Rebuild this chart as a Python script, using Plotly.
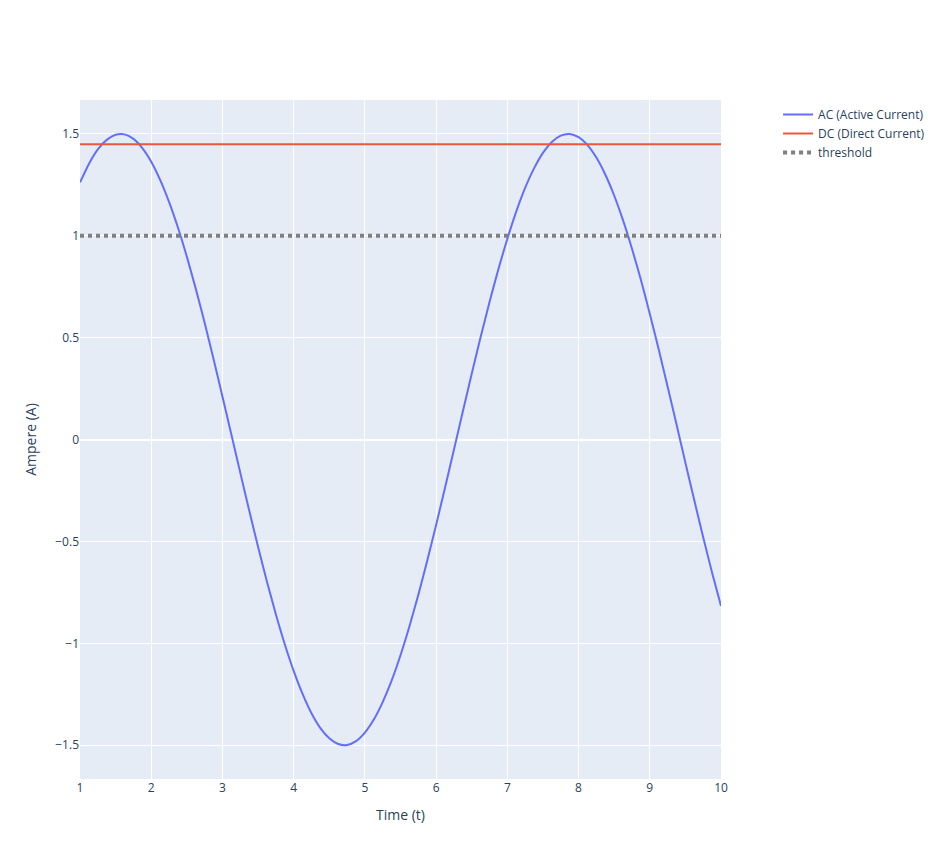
import plotly.graph_objects as go

t = [1.000, 1.125, 1.250, 1.375, 1.500, 1.625, 1.750, 1.875,
     2.000, 2.125, 2.250, 2.375, 2.500, 2.625, 2.750, 2.875,
     3.000, 3.125, 3.250, 3.375, 3.500, 3.625, 3.750, 3.875,
     4.000, 4.125, 4.250, 4.375, 4.500, 4.625, 4.750, 4.875,
     5.000, 5.125, 5.250, 5.375, 5.500, 5.625, 5.750, 5.875,
     6.000, 6.125, 6.250, 6.375, 6.500, 6.625, 6.750, 6.875,
     7.000, 7.125, 7.250, 7.375, 7.500, 7.625, 7.750, 7.875,
     8.000, 8.125, 8.250, 8.375, 8.500, 8.625, 8.750, 8.875,
     9.000, 9.125, 9.250, 9.375, 9.500, 9.625, 9.750, 9.875, 10.000]
ac = [1.262, 1.353, 1.424, 1.471, 1.496, 1.498, 1.476, 1.431,
      1.364, 1.275, 1.167, 1.041, 0.898, 0.741, 0.573, 0.395,
      0.212, 0.025, -0.162, -0.347, -0.526, -0.697, -0.857, -1.004,
      -1.135, -1.248, -1.343, -1.416, -1.466, -1.494, -1.499, -1.480,
      -1.438, -1.374, -1.288, -1.183, -1.058, -0.917, -0.762, -0.595,
      -0.419, -0.236, -0.050, 0.138, 0.323, 0.503, 0.675, 0.837,
      0.985, 1.119, 1.235, 1.331, 1.407, 1.461, 1.492, 1.500,
      1.484, 1.445, 1.384, 1.301, 1.198, 1.076, 0.937, 0.784,
      0.618, 0.443, 0.261, 0.075, -0.113, -0.298, -0.479, -0.653, -0.816]
dc_t = [1.0, 10.0]
dc = [1.45, 1.45]
thr_t = [1.0, 10.0]
thr = [1.0, 1.0]

fig = go.Figure()
fig.add_trace(go.Scatter(x=t, y=ac, mode="lines", name="AC (Active Current)",
                         line=dict(color="#636efa", shape="spline", smoothing=0.6)))
fig.add_trace(go.Scatter(x=dc_t, y=dc, mode="lines", name="DC (Direct Current)",
                         line=dict(color="#EF553B")))
fig.add_trace(go.Scatter(x=thr_t, y=thr, mode="lines", name="threshold",
                         line=dict(color="grey", dash="dot", width=4)))
fig.update_layout(template="plotly", width=942, height=859,
                  margin=dict(l=80, r=221, t=100, b=80),
                  legend=dict(x=1.089, y=1),
                  xaxis_title="Time (t)", yaxis_title="Ampere (A)")
fig.write_html("out.html", config={"displayModeBar": False},
               post_script="document.body.style.margin='0';")
